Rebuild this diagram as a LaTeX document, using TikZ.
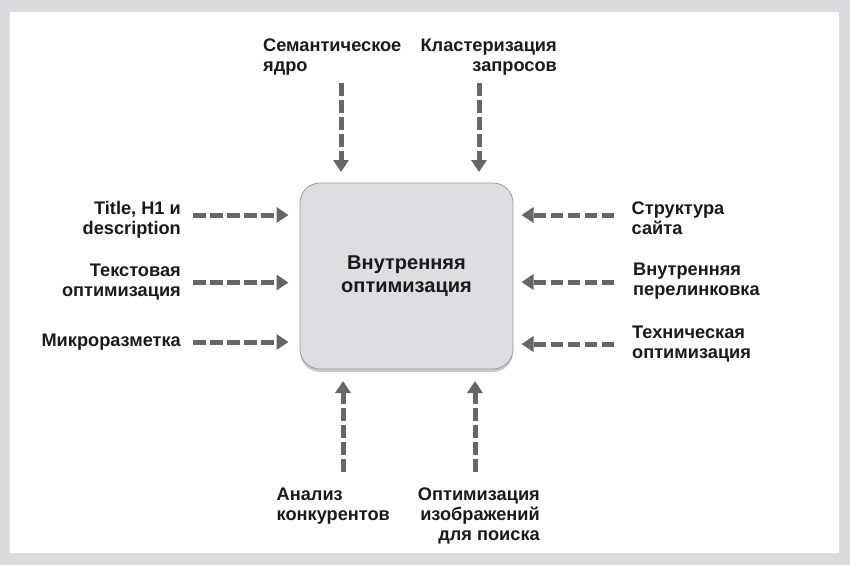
\documentclass[tikz,border=0pt]{standalone}
\usepackage{fontspec}
\setmainfont{Liberation Sans}
\usetikzlibrary{arrows.meta,shadows}
\definecolor{bggray}{HTML}{DCDBE0}
\definecolor{boxfill}{HTML}{DEDDE2}
\definecolor{boxline}{HTML}{9A9A9E}
\definecolor{arrgray}{HTML}{666666}
\definecolor{txt}{HTML}{1A1A1A}
\tikzset{
  lbl/.style={inner sep=0pt, text=txt, font=\fontsize{18.2}{20}\selectfont\bfseries},
  flow/.style={draw=arrgray, line width=5pt, dash pattern=on 12.5pt off 4.5pt,
    -{Triangle[length=12pt,width=15pt]}},
  mainbox/.style={draw=boxline, line width=0.8pt, fill=boxfill, rounded corners=20pt,
    minimum width=213pt, minimum height=186pt, text=txt,
    font=\fontsize{20}{22.4}\selectfont\bfseries, align=center,
    drop shadow={shadow xshift=0pt, shadow yshift=-3pt, opacity=0.35, fill=black!60}}
}
\begin{document}
\begin{tikzpicture}[x=1pt,y=-1pt]
\fill[bggray] (0,0) rectangle (850,565);
\fill[white] (10,12) rectangle (839,553);
\useasboundingbox (0,0) rectangle (850,565);

\node[mainbox] (c) at (406.5,276) {Внутренняя\\оптимизация};

% top
\node[lbl, anchor=base west, align=left] (t1) at (263,71.7) {Семантическое\\ядро};
\node[lbl, anchor=base east, align=right] (t2) at (557,71.7) {Кластеризация\\запросов};
\coordinate (t1s) at (341,83); \coordinate (t1e) at (341,172);
\coordinate (t2s) at (479,83); \coordinate (t2e) at (479,172);
\draw[flow] (t1s) -- (t1e);
\draw[flow] (t2s) -- (t2e);

% left
\node[lbl, anchor=base east, align=right] (l1) at (181,234) {Title, H1 и\\description};
\node[lbl, anchor=base east, align=right] (l2) at (181,296.7) {Текстовая\\оптимизация};
\node[lbl, anchor=base east, align=right] (l3) at (181,346.7) {Микроразметка};
\coordinate (l1s) at (193,215); \coordinate (l1e) at (288.5,215);
\coordinate (l2s) at (193,282.5); \coordinate (l2e) at (288.5,282.5);
\coordinate (l3s) at (193,342); \coordinate (l3e) at (288.5,342);
\draw[flow] (l1s) -- (l1e);
\draw[flow] (l2s) -- (l2e);
\draw[flow] (l3s) -- (l3e);

% right
\node[lbl, anchor=base west, align=left] (r1) at (631.5,234) {Структура\\сайта};
\node[lbl, anchor=base west, align=left] (r2) at (633,295) {Внутренняя\\перелинковка};
\node[lbl, anchor=base west, align=left] (r3) at (632,358) {Техническая\\оптимизация};
\coordinate (r1s) at (614,215); \coordinate (r1e) at (521.5,215);
\coordinate (r2s) at (614,282); \coordinate (r2e) at (521.5,282);
\coordinate (r3s) at (614,344); \coordinate (r3e) at (521.5,344);
\draw[flow] (r1s) -- (r1e);
\draw[flow] (r2s) -- (r2e);
\draw[flow] (r3s) -- (r3e);

% bottom
\node[lbl, anchor=base west, align=left] (b1) at (276.5,520.7) {Анализ\\конкурентов};
\node[lbl, anchor=base east, align=right] (b2) at (540,540) {Оптимизация\\изображений\\для поиска};
\coordinate (b1s) at (343,471.5); \coordinate (b1e) at (343,381);
\coordinate (b2s) at (475,471.5); \coordinate (b2e) at (475,381);
\draw[flow] (b1s) -- (b1e);
\draw[flow] (b2s) -- (b2e);
\end{tikzpicture}
\end{document}
